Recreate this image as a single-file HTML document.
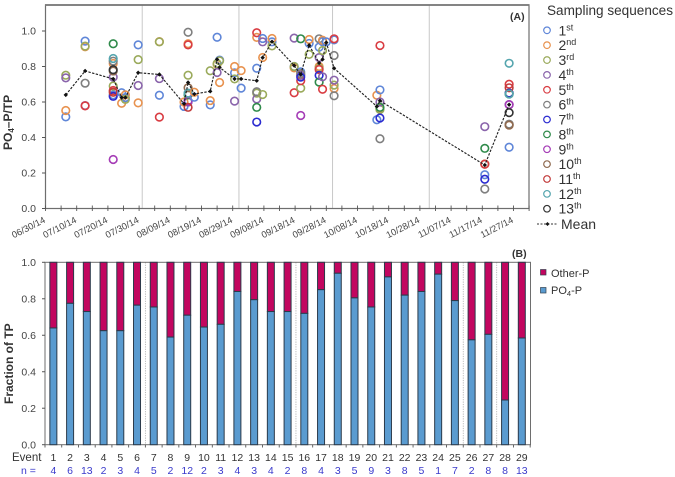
<!DOCTYPE html>
<html lang="en">
<head>
<meta charset="utf-8">
<title>Fraction of TP by sampling event</title>
<style>
html,body{margin:0;padding:0;background:#fff;width:675px;height:477px;overflow:hidden}
svg{display:block;font-family:"Liberation Sans",sans-serif;filter:blur(0.35px)}
</style>
</head>
<body>
<svg id="chart" width="675" height="477" viewBox="0 0 675 477" xmlns="http://www.w3.org/2000/svg">
  <rect x="0" y="0" width="675" height="477" fill="#ffffff"/>
  <g id="panelA"></g>
  <g id="panelB"></g>
  <text x="510" y="20" font-size="10.5" font-weight="bold" fill="#333">(A)</text>
  <text x="512" y="257" font-size="10.5" font-weight="bold" fill="#333">(B)</text>
  <text transform="translate(12,150) rotate(-90)" font-size="12" font-weight="bold" fill="#333">PO<tspan font-size="8" dy="2">4</tspan><tspan dy="-2">–P/TP</tspan></text>
  <text transform="translate(13,404) rotate(-90)" font-size="12" font-weight="bold" fill="#333">Fraction of TP</text>
  <text x="12" y="461" font-size="11.5" fill="#333">Event</text>
  <text x="21" y="474" font-size="10.5" fill="#3a3acc">n =</text>
  <text x="547" y="15" font-size="13.5" textLength="126" lengthAdjust="spacingAndGlyphs" fill="#333">Sampling sequences</text>
  <g id="legendA"></g>
  <g>
    <line x1="537" y1="224" x2="558" y2="224" stroke="#333" stroke-width="1" stroke-dasharray="2 1.5"/>
    <path d="M547.5 222 l2 2 l-2 2 l-2 -2 z" fill="#111"/>
    <text x="561" y="229" font-size="14" fill="#333">Mean</text>
  </g>
  <g>
    <rect x="540.5" y="269.5" width="5.5" height="5.5" fill="#c2065f" stroke="#33414f" stroke-width="0.7"/>
    <text x="551" y="277" font-size="11" fill="#333">Other-P</text>
  </g>
  <g>
    <rect x="540.5" y="287.5" width="5.5" height="5.5" fill="#5a9bd0" stroke="#33414f" stroke-width="0.7"/>
    <text x="551" y="294" font-size="11" fill="#333">PO<tspan font-size="7.5" dy="2">4</tspan><tspan dy="-2">-P</tspan></text>
  </g>
</svg>
<script>
/* ---------- chart data ---------- */
const dateTickLabels = ["06/30/14","07/10/14","07/20/14","07/30/14","08/09/14","08/19/14","08/29/14","09/08/14","09/18/14","09/28/14","10/08/14","10/18/14","10/28/14","11/07/14","11/17/14","11/27/14"];
const yTickValues = [0,0.2,0.4,0.6,0.8,1.0];
const seasonDividerDays = [31,62,92,123];
const eventNumbers = [1,2,3,4,5,6,7,8,9,10,11,12,13,14,15,16,17,18,19,20,21,22,23,24,25,26,27,28,29];
const sampleCounts = [4,6,13,2,3,4,5,2,12,2,3,4,3,4,2,8,4,3,5,9,3,8,5,1,7,2,8,8,13];
const eventDays = [6.5,12.7,21.7,24.4,25.6,29.7,36.5,44.4,45.7,47.7,52.8,55,55.8,60.6,62.7,67.7,69.6,72.6,79.7,81.8,84.5,87.7,88.8,90,92.5,106.2,107.2,140.8,148.6];
const meanValues = [0.64,0.775,0.73,0.625,0.625,0.765,0.755,0.59,0.71,0.645,0.66,0.84,0.795,0.73,0.73,0.72,0.85,0.94,0.805,0.755,0.92,0.82,0.84,0.935,0.79,0.575,0.607,0.245,0.585];
const po4Fraction = [0.64,0.775,0.73,0.625,0.625,0.765,0.755,0.59,0.71,0.645,0.66,0.84,0.795,0.73,0.73,0.72,0.85,0.94,0.805,0.755,0.92,0.82,0.84,0.935,0.79,0.575,0.605,0.245,0.585];
const dividerAfterEvents = [6,15,25,27];
const sequenceNames = [["1","st"],["2","nd"],["3","rd"],["4","th"],["5","th"],["6","th"],["7","th"],["8","th"],["9","th"],["10","th"],["11","th"],["12","th"],["13","th"]];
const sequenceColors = ["#5f86d8","#e8924f","#9aaa5b","#8a64ab","#d93c42","#7f7f7f","#2b2bd0","#2f8a4a","#a53cb6","#8f6a50","#c23b3b","#55a5ae","#333333"];
/* one entry per event: [sequence number, PO4-P/TP] */
const eventSamples = [
 [[1,.516],[2,.552],[3,.751],[4,.736]],
 [[1,.943],[2,.911],[3,.915],[4,.58],[5,.578],[6,.706]],
 [[1,.64],[2,.817],[3,.69],[4,.74],[5,.665],[6,.83],[7,.632],[8,.928],[9,.276],[10,.775],[11,.655],[12,.845],[13,.782]],
 [[1,.652],[2,.593]],
 [[1,.625],[2,.64],[3,.615]],
 [[1,.922],[2,.595],[3,.839],[4,.693]],
 [[1,.638],[2,.94],[3,.939],[4,.732],[5,.515]],
 [[1,.575],[2,.60]],
 [[1,.605],[2,.928],[3,.751],[4,.60],[5,.922],[6,.993],[7,.605],[8,.64],[9,.605],[10,.68],[11,.57],[12,.65]],
 [[1,.627],[2,.655]],
 [[1,.584],[2,.608],[3,.776]],
 [[1,.965],[2,.813],[3,.817],[4,.766]],
 [[1,.836],[2,.71],[3,.832]],
 [[1,.764],[2,.80],[3,.73],[4,.605]],
 [[1,.678],[2,.777]],
 [[1,.79],[2,.964],[3,.65],[4,.617],[5,.99],[6,.658],[7,.487],[8,.57]],
 [[1,.958],[2,.851],[3,.642],[4,.939]],
 [[1,.939],[2,.958],[3,.916]],
 [[1,.80],[2,.792],[3,.80],[4,.96],[5,.652]],
 [[1,.77],[2,.755],[3,.678],[4,.75],[5,.72],[6,.76],[7,.74],[8,.956],[9,.524]],
 [[1,.93],[2,.952],[3,.868]],
 [[1,.909],[2,.80],[3,.79],[4,.85],[5,.783],[6,.956],[7,.75],[8,.712]],
 [[1,.94],[2,.948],[3,.89],[4,.742],[5,.672]],
 [[1,.939]],
 [[1,.95],[2,.676],[3,.695],[4,.723],[5,.956],[6,.862],[6,.635]],
 [[1,.50],[2,.638]],
 [[1,.668],[2,.565],[3,.558],[4,.60],[5,.918],[6,.393],[7,.51],[8,.57]],
 [[1,.19],[2,.25],[3,.25],[4,.461],[5,.25],[6,.11],[7,.165],[8,.339]],
 [[1,.345],[2,.47],[3,.65],[4,.585],[5,.70],[6,.475],[7,.65],[8,.645],[9,.585],[10,.47],[11,.68],[12,.818],[12,.645],[13,.54]]
];

/* ---------- axis functions ---------- */
const xDay = d => 45.5 + d * 3.12;
const yA = v => 208.5 - v * 177.5;
const xEvent = i => 45 + 16.73 * (i + 0.5);
const yB = v => 444.7 - v * 182.4;
const NS = 'http://www.w3.org/2000/svg';
function mk(parent, tag, attrs, txt) {
  const el = document.createElementNS(NS, tag);
  for (const k in attrs) el.setAttribute(k, attrs[k]);
  if (txt !== undefined) el.textContent = txt;
  parent.appendChild(el);
  return el;
}
const A = document.getElementById('panelA');
const B = document.getElementById('panelB');
const LG = document.getElementById('legendA');
const axisDark = '#555';
let el;

/* ---------- panel A ---------- */
seasonDividerDays.forEach(d => {
  el = mk(A, 'line', {x1: xDay(d), x2: xDay(d), y1: 5, y2: 208.5, stroke: '#c8c8c8', 'stroke-width': 1});
  
  
});
el = mk(A, 'rect', {x: 45.5, y: 5, width: 483.5, height: 203.5, fill: 'none', stroke: '#6e6e6e', 'stroke-width': 1.2});


el = mk(A, 'line', {x1: 45, x2: 529.5, y1: 5, y2: 5, stroke: '#777', 'stroke-width': 1.8});



yTickValues.forEach(v => {
  el = mk(A, 'line', {x1: 42, x2: 45.5, y1: yA(v), y2: yA(v), stroke: axisDark, 'stroke-width': 1});
  
  
  el = mk(A, 'text', {x: 36, y: yA(v) + 3.7, 'font-size': 10.5, fill: '#444', 'text-anchor': 'end'}, v.toFixed(1));
  
  
});
for (let d = 0; d <= 155; d += 5) {
  el = mk(A, 'line', {x1: xDay(d), x2: xDay(d), y1: 205.5, y2: 211, stroke: axisDark, 'stroke-width': 0.9});
  
  
}
dateTickLabels.forEach((lab, i) => {
  const x = xDay(i * 10) + 0.5, y = 222;
  el = mk(A, 'text', {x: 0, y: 0, transform: `translate(${x},${y}) rotate(-27)`, 'font-size': 9.3, fill: '#444', 'text-anchor': 'end'}, lab);
  
  
});

eventSamples.forEach((samples, i) => {
  samples.forEach(s => {
    el = mk(A, 'circle', {cx: xDay(eventDays[i]), cy: yA(s[1]), r: 3.8, fill: 'none', stroke: sequenceColors[s[0] - 1], 'stroke-width': 1.6});
    
    
  });
});

el = mk(A, 'polyline', {points: meanValues.map((v, i) => xDay(eventDays[i]) + ',' + yA(v)).join(' '), fill: 'none', stroke: '#222', 'stroke-width': 1.15, 'stroke-dasharray': '2.4 1.4'});


meanValues.forEach((v, i) => {
  const x = xDay(eventDays[i]), y = yA(v);
  el = mk(A, 'path', {d: `M${x} ${y - 2.2} l2.2 2.2 l-2.2 2.2 l-2.2 -2.2 z`, fill: '#111'});
  
  
});

/* ---------- sequence legend ---------- */
sequenceNames.forEach((nm, i) => {
  const y = 30.3 + 14.87 * i;
  el = mk(LG, 'circle', {cx: 547, cy: y, r: 3.3, fill: 'none', stroke: sequenceColors[i], 'stroke-width': 1.2});
  
  
  const t = mk(LG, 'text', {x: 558.5, y: y + 5, 'font-size': 14, fill: '#333'}, nm[0]);
  
  
  mk(t, 'tspan', {'font-size': 9, dy: -5}, nm[1]);
});

/* ---------- panel B ---------- */
dividerAfterEvents.forEach(n => {
  const x = 45 + 16.73 * n;
  el = mk(B, 'line', {x1: x, x2: x, y1: 262.3, y2: 444.7, stroke: '#aaa', 'stroke-width': 0.8, 'stroke-dasharray': '1.2 1.2'});
  
  
});
el = mk(B, 'rect', {x: 45, y: 262.3, width: 485.5, height: 182.4, fill: 'none', stroke: '#6e6e6e', 'stroke-width': 1});



po4Fraction.forEach((v, i) => {
  const x = xEvent(i) - 3.5;
  el = mk(B, 'rect', {x: x, y: yB(1), width: 7, height: yB(v) - yB(1), fill: '#c2065f', stroke: '#2b3a4a', 'stroke-width': 1});
  
  
  el = mk(B, 'rect', {x: x, y: yB(v), width: 7, height: yB(0) - yB(v), fill: '#5a9bd0', stroke: '#2b3a4a', 'stroke-width': 1});
  
  
});
yTickValues.forEach(v => {
  el = mk(B, 'line', {x1: 42, x2: 45, y1: yB(v), y2: yB(v), stroke: axisDark, 'stroke-width': 1});
  
  
  el = mk(B, 'text', {x: 36, y: yB(v) + 3.7, 'font-size': 10.5, fill: '#444', 'text-anchor': 'end'}, v.toFixed(1));
  
  
});
for (let i = 0; i <= eventNumbers.length; i++) {
  const x = 45 + 16.73 * i;
  el = mk(B, 'line', {x1: x, x2: x, y1: 444.7, y2: 447.5, stroke: axisDark, 'stroke-width': 0.9});
  
  
}
eventNumbers.forEach((n, i) => {
  el = mk(B, 'text', {x: xEvent(i), y: 461, 'font-size': 10.5, fill: '#333', 'text-anchor': 'middle'}, n);
  
  
  el = mk(B, 'text', {x: xEvent(i), y: 474, 'font-size': 10.5, fill: '#3a3acc', 'text-anchor': 'middle'}, sampleCounts[i]);
  
  
});
</script>
</body>
</html>
